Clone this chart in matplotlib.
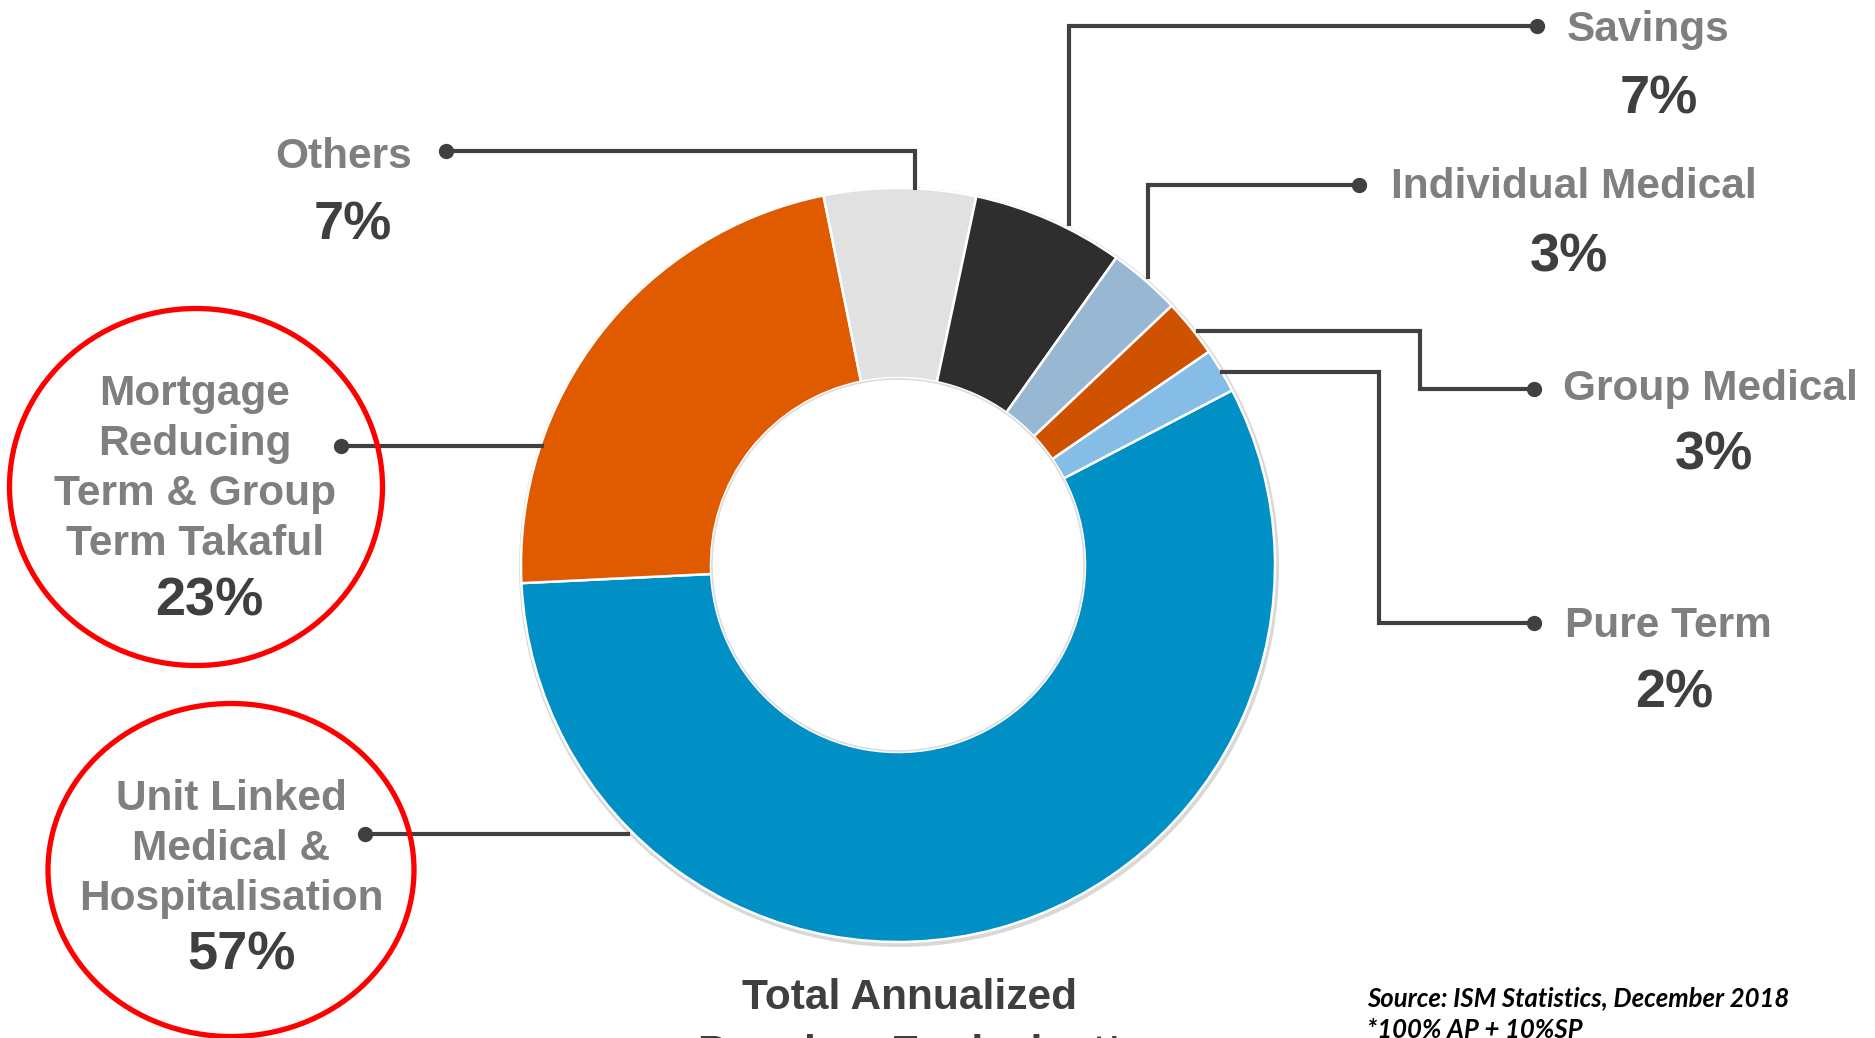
import matplotlib
matplotlib.use("Agg")
import matplotlib.pyplot as plt
from matplotlib.patches import Ellipse, Circle

# ---------------- data ----------------
categories = ["Unit Linked\nMedical &\nHospitalisation",
              "Mortgage\nReducing\nTerm & Group\nTerm Takaful",
              "Others", "Savings", "Individual Medical",
              "Group Medical", "Pure Term"]
shares = [56.9, 22.6, 6.5, 6.5, 3.1, 2.5, 1.9]          # slice sizes
pct_labels = ["57%", "23%", "7%", "7%", "3%", "3%", "2%"]  # printed labels
colors = ["#0090C6", "#E05A00", "#E1E1E1", "#2E2E2E", "#98B7D3", "#CE5200", "#85BDE6"]

title_lines = ["Total Annualized", "Premium Equivalent*"]
source_lines = ["Source: ISM Statistics, December 2018", "*100% AP + 10%SP"]

W, H = 1875, 1038
def Y(y):
    return H - y

fig = plt.figure(figsize=(W / 100, H / 100), dpi=100)
ax = fig.add_axes([0, 0, 1, 1])

cx, cy, R, r_in = 898, 565, 377, 187

# faint shadow ring
ax.add_patch(Circle((cx + 1, Y(cy) - 2), R + 3, facecolor="#D8D8D8", edgecolor="none", zorder=0))

ax.pie(shares, colors=colors, startangle=27.6, counterclock=False,
       radius=R, center=(cx, Y(cy)),
       wedgeprops=dict(width=R - r_in, edgecolor="white", linewidth=1.8))
ax.add_patch(Circle((cx, Y(cy)), r_in - 1, facecolor="white", edgecolor="#DDDDDD", lw=1.2, zorder=3))

ax.set_xlim(0, W)
ax.set_ylim(0, H)
ax.set_aspect("equal")
ax.axis("off")

FONT = "Liberation Sans"
LBL_C = "#7F7F7F"
PCT_C = "#3F3F3F"
LINE_C = "#404040"
LS = 30.5
PS = 39

def leader(points, dot):
    xs = [p[0] for p in points]
    ys = [Y(p[1]) for p in points]
    ax.plot(xs, ys, color=LINE_C, lw=3.0, solid_joinstyle="miter", zorder=4)
    ax.plot([dot[0]], [Y(dot[1])], "o", color=LINE_C, ms=10, zorder=5)

# leader lines (connector geometry)
leader([(628, 834), (365, 834)], (365, 834))                       # unit linked
leader([(542, 446), (341, 446)], (341, 446))                       # mortgage
leader([(915, 188), (915, 151), (446, 151)], (446, 151))           # others
leader([(1069, 224), (1069, 26), (1537, 26)], (1537, 26))          # savings
leader([(1148, 277), (1148, 185), (1359, 185)], (1359, 185))       # individual medical
leader([(1198, 331), (1420, 331), (1420, 389), (1534, 389)], (1534, 389))  # group medical
leader([(1222, 372), (1379, 372), (1379, 623), (1534, 623)], (1534, 623))  # pure term

# label text positions
label_pos = [(231, 849), (195, 469), (344, 157), (1648, 30), (1574, 187), (1710, 389), (1668, 626)]
pct_pos = [(242, 955), (209, 602), (353, 225), (1659, 99), (1569, 258), (1714, 455), (1674, 693)]

for i, (cat, pct) in enumerate(zip(categories, pct_labels)):
    lx, ly = label_pos[i]
    ax.text(lx, Y(ly), cat, ha="center", va="center", fontsize=LS, fontweight="bold",
            family=FONT, color=LBL_C, linespacing=1.33, zorder=6)
    px, py = pct_pos[i]
    ax.text(px, Y(py), pct, ha="center", va="center", fontsize=PS, fontweight="bold",
            family=FONT, color=PCT_C, zorder=6)

# red highlight circles
ax.add_patch(Ellipse((196, Y(487)), 373, 357, fill=False, edgecolor="#FF0000", lw=3.8, zorder=7))
ax.add_patch(Ellipse((231, Y(870)), 366, 333, fill=False, edgecolor="#FF0000", lw=3.8, zorder=7))

# title (second line runs off the bottom edge, as in the source image)
ax.text(910, Y(998), title_lines[0], ha="center", va="center", fontsize=30.5,
        fontweight="bold", family=FONT, color=PCT_C)
ax.text(910, Y(1054), title_lines[1], ha="center", va="center", fontsize=30.5,
        fontweight="bold", family=FONT, color=PCT_C)

# source
ax.text(1367, Y(998), source_lines[0], ha="left", va="center", fontsize=18.5,
        fontweight="bold", style="italic", family="Lato", color="black")
ax.text(1367, Y(1030), source_lines[1], ha="left", va="center", fontsize=18.5,
        fontweight="bold", style="italic", family="Lato", color="black")

fig.savefig("out.png", dpi=100)
